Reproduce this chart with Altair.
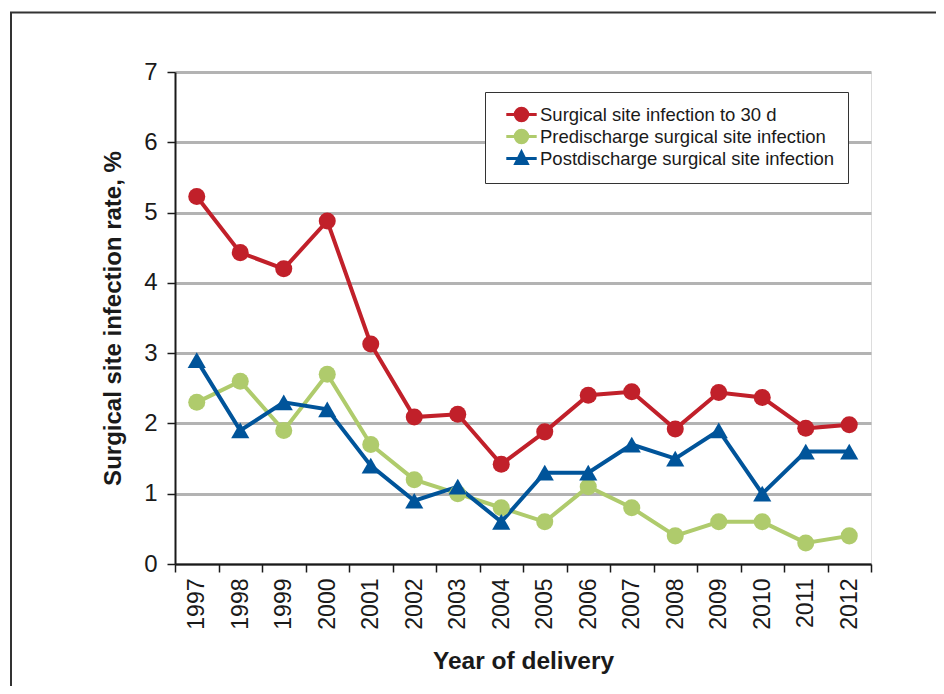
import altair as alt
import pandas as pd

years = [str(y) for y in range(1997, 2013)]
series = [
    "Surgical site infection to 30 d",
    "Predischarge surgical site infection",
    "Postdischarge surgical site infection",
]
total_30d = [5.23, 4.43, 4.20, 4.88, 3.13, 2.09, 2.13, 1.42, 1.88, 2.40, 2.45, 1.92, 2.44, 2.37, 1.93, 1.98]
predischarge = [2.3, 2.6, 1.9, 2.7, 1.7, 1.2, 1.0, 0.8, 0.6, 1.1, 0.8, 0.4, 0.6, 0.6, 0.3, 0.4]
postdischarge = [2.9, 1.9, 2.3, 2.2, 1.4, 0.9, 1.1, 0.6, 1.3, 1.3, 1.7, 1.5, 1.9, 1.0, 1.6, 1.6]
colors = ["#c1202a", "#afcb6c", "#00549a"]
y_ticks = [0, 1, 2, 3, 4, 5, 6, 7]

rows = []
for name, vals in zip(series, [total_30d, predischarge, postdischarge]):
    for yr, v in zip(years, vals):
        rows.append({"year": yr, "rate": v, "series": name})
df = pd.DataFrame(rows)

FONT = "Liberation Sans"

circle_path = "M-1.9,0L1.9,0M-0.78,0A0.78,0.78,0,1,0,0.78,0A0.78,0.78,0,1,0,-0.78,0Z"
tri_path = "M-1.9,0L1.9,0M0,-0.8L0.72,0.62L-0.72,0.62Z"

legend = alt.Legend(
    title=None,
    orient="none",
    legendX=310,
    legendY=20,
    padding=13,
    strokeColor="#333333",
    fillColor="white",
    labelFont=FONT,
    labelFontSize=18.5,
    labelColor="#1a1a1a",
    labelLimit=500,
    symbolSize=256,
    symbolStrokeWidth=3,
    symbolOffset=14,
    labelOffset=9,
    rowPadding=-5,
)

x = alt.X(
    "year:O",
    bandPosition=0.5,
    scale=alt.Scale(type="band", domain=years, paddingInner=0, paddingOuter=0),
    axis=alt.Axis(
        title="Year of delivery",
        labelAngle=-90,
        tickBand="extent",
        labelFont=FONT,
        labelFontSize=23,
        labelColor="#1a1a1a",
        labelPadding=6,
        tickColor="#1a1a1a",
        tickWidth=1.5,
        tickSize=8,
        domainColor="#1a1a1a",
        domainWidth=2,
        grid=False,
        titleFont=FONT,
        titleFontSize=24.5,
        titleFontWeight="bold",
        titleColor="#1a1a1a",
        titlePadding=20,
    ),
)

y = alt.Y(
    "rate:Q",
    scale=alt.Scale(domain=[0, 7], nice=False),
    axis=alt.Axis(
        title="Surgical site infection rate, %",
        values=y_ticks,
        labelFont=FONT,
        labelFontSize=24,
        labelColor="#1a1a1a",
        labelPadding=10,
        tickColor="#1a1a1a",
        tickWidth=1.5,
        tickSize=8,
        domainColor="#1a1a1a",
        domainWidth=2,
        grid=True,
        gridColor="#b3b3b3",
        gridWidth=3,
        titleFont=FONT,
        titleFontSize=24,
        titleFontWeight="bold",
        titleColor="#1a1a1a",
        titlePadding=18,
    ),
)

color = alt.Color("series:N", scale=alt.Scale(domain=series, range=colors), legend=legend)
shape = alt.Shape(
    "series:N",
    scale=alt.Scale(domain=series, range=[circle_path, circle_path, tri_path]),
    legend=legend,
)

lines = alt.Chart(df).mark_line(strokeWidth=4).encode(x=x, y=y, color=color, detail="series:N")

circles = (
    alt.Chart(df)
    .transform_filter(alt.datum.series != series[2])
    .mark_point(filled=True, opacity=1, size=290, shape="circle")
    .encode(x=x, y=y, color=color)
)
triangles = (
    alt.Chart(df)
    .transform_filter(alt.datum.series == series[2])
    .mark_point(filled=True, opacity=1, size=330, shape="triangle-up")
    .encode(x=x, y=y, color=color)
)

# legend symbols (line + marker); the marks of this layer have zero size
legend_layer = (
    alt.Chart(df)
    .mark_point(filled=True, strokeWidth=3, size=0)
    .encode(x=x, y=y, color=color, shape=shape)
)

frame_df = pd.DataFrame({"k": [0]})
frame_left = alt.Chart(frame_df).mark_rule(color="#333333", strokeWidth=2).encode(
    x=alt.value(-164), y=alt.value(-59.5), y2=alt.value(700)
)
frame_top = alt.Chart(frame_df).mark_rule(color="#333333", strokeWidth=2).encode(
    x=alt.value(-165), x2=alt.value(800), y=alt.value(-59.5)
)

chart = (
    alt.layer(lines, circles, triangles, legend_layer, frame_left, frame_top)
    .properties(
        width=696,
        height=492,
        autosize="none",
        padding={"left": 167, "top": 64, "right": 65, "bottom": 122},
    )
    .configure_view(stroke="#555555", strokeWidth=1.5)
    .configure(background="white")
)

chart.save("out.html", embed_options={"renderer": "svg", "actions": False})
